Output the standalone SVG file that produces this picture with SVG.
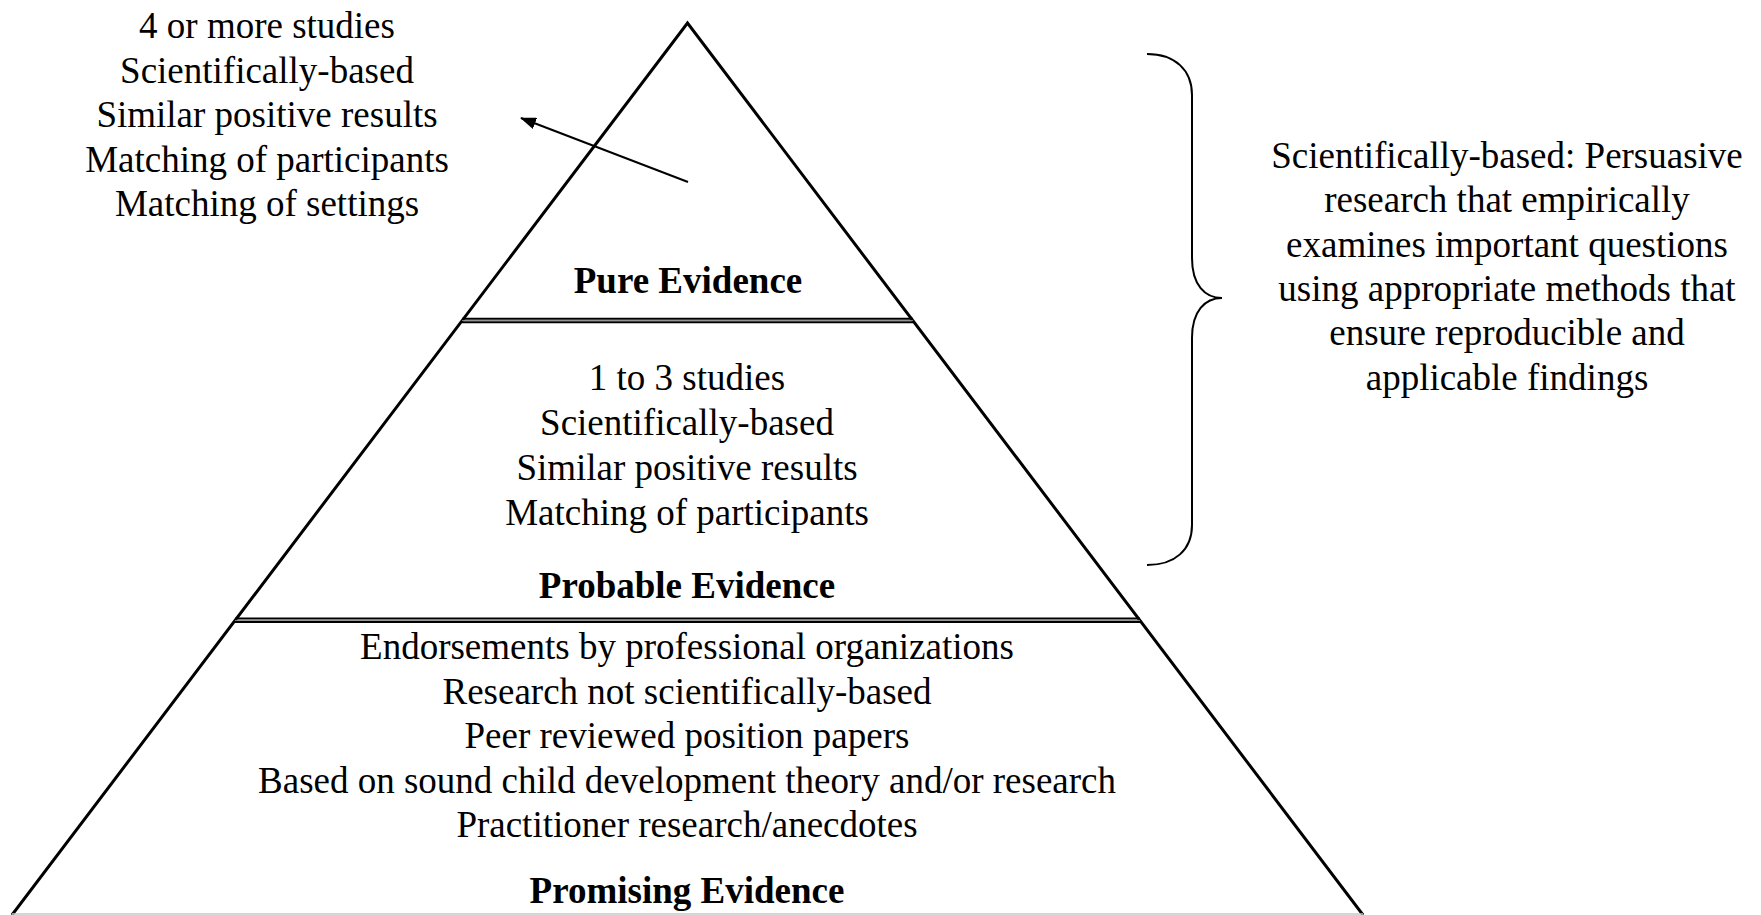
<svg xmlns="http://www.w3.org/2000/svg" width="1761" height="915" viewBox="0 0 1761 915">
  <defs>
    <marker id="arrowhead" viewBox="0 0 16 12" refX="15" refY="6" markerWidth="16" markerHeight="12" markerUnits="userSpaceOnUse" orient="auto">
      <path d="M0,0 L16,6 L0,12 z" fill="#000"/>
    </marker>
    <style>
      text { font-family: "Liberation Serif", "Times New Roman", serif; font-size: 37px; fill: #000; text-anchor: middle; }
      .title { font-weight: bold; }
      .edge { stroke: #000; stroke-width: 3; fill: none; }
      .divider { stroke: #000; stroke-width: 2; }
      .divider-mid { stroke: #888; stroke-width: 1; }
    </style>
  </defs>
  <rect width="1761" height="915" fill="#fff"/>

  <!-- pyramid outline -->
  <g id="pyramid">
    <path class="edge" d="M12,915 L687.5,23 L1363,915"/>
    <line x1="12" y1="914" x2="1363" y2="914" stroke="#c8c8c8" stroke-width="1.5"/>
    <!-- double dividers between tiers -->
    <line class="divider" x1="462" y1="318.8" x2="913" y2="318.8"/>
    <line class="divider-mid" x1="462" y1="320.6" x2="913" y2="320.6"/>
    <line class="divider" x1="462" y1="322.2" x2="913" y2="322.2"/>
    <line class="divider" x1="235" y1="618.6" x2="1140" y2="618.6"/>
    <line class="divider-mid" x1="235" y1="620.4" x2="1140" y2="620.4"/>
    <line class="divider" x1="235" y1="622" x2="1140" y2="622"/>
  </g>

  <g id="tier-pure">
    <text class="title" x="688" y="293">Pure Evidence</text>
  </g>

  <g id="tier-probable">
    <text x="687" y="389.5">1 to 3 studies</text>
    <text x="687" y="434.5">Scientifically-based</text>
    <text x="687" y="479.5">Similar positive results</text>
    <text x="687" y="524.5">Matching of participants</text>
    <text class="title" x="687" y="597.5">Probable Evidence</text>
  </g>

  <g id="tier-promising">
    <text x="687" y="658.5">Endorsements by professional organizations</text>
    <text x="687" y="703.5">Research not scientifically-based</text>
    <text x="687" y="747.5">Peer reviewed position papers</text>
    <text x="687" y="792.5">Based on sound child development theory and/or research</text>
    <text x="687" y="836.5">Practitioner research/anecdotes</text>
    <text class="title" x="687" y="902.5">Promising Evidence</text>
  </g>

  <g id="pure-criteria">
    <text x="267" y="37.5">4 or more studies</text>
    <text x="267" y="82.5">Scientifically-based</text>
    <text x="267" y="126.5">Similar positive results</text>
    <text x="267" y="171.5">Matching of participants</text>
    <text x="267" y="215.5">Matching of settings</text>
  </g>

  <g id="definition">
    <text x="1507" y="168">Scientifically-based: Persuasive</text>
    <text x="1507" y="212">research that empirically</text>
    <text x="1507" y="257">examines important questions</text>
    <text x="1507" y="301">using appropriate methods that</text>
    <text x="1507" y="345">ensure reproducible and</text>
    <text x="1507" y="390">applicable findings</text>
  </g>

  <g id="connectors">
    <line x1="688" y1="182" x2="521" y2="118" stroke="#000" stroke-width="2" marker-end="url(#arrowhead)"/>
    <path d="M1147,54 C1175,54 1192,70 1192,95 L1192,258 C1192,285 1205,298 1222,298 C1205,298 1192,311 1192,338 L1192,525 C1192,550 1175,565 1147,565" stroke="#000" stroke-width="2" fill="none"/>
  </g>
</svg>
